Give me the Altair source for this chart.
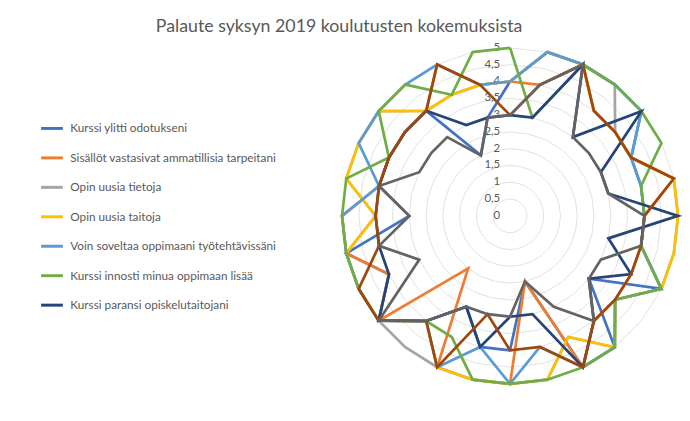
import altair as alt
import pandas as pd

N_CAT = 28
categories = list(range(N_CAT))

series_names = [
    "Kurssi ylitti odotukseni",
    "Sisällöt vastasivat ammatillisia tarpeitani",
    "Opin uusia tietoja",
    "\u00a0Opin uusia taitoja",
    "Voin soveltaa oppimaani työtehtävissäni",
    "\u00a0Kurssi innosti minua oppimaan lisää",
    "Kurssi paransi opiskelutaitojani",
    "Sarja8",
    "Sarja9",
]
series_colors = ["#4472C4", "#ED7D31", "#A5A5A5", "#FFC000", "#5B9BD5",
                 "#70AD47", "#264478", "#9E480E", "#636363"]

kurssi_ylitti = [4, 5, 5, 5, 5, 4, 4, 4, 4, 5, 3, 5, 5, 2, 4, 4, 3, 4, 5, 4, 5, 3, 4, 4, 4, 4, 2, 3]
sisallot = [4, 4, 5, 4, 4, 4, 5, 4, 4, 4, 4, 4, 5, 2, 5, 5, 5, 2, 5, 4, 5, 5, 4, 4, 4, 4, 5, 4]
tietoja = [4, 5, 5, 5, 4, 4, 5, 5, 5, 5, 4, 5, 4, 5, 5, 5, 5, 5, 5, 5, 5, 4, 5, 5, 5, 4, 4, 4]
taitoja = [4, 5, 5, 4, 4, 4, 5, 5, 5, 5, 4, 5, 4, 5, 5, 5, 5, 4, 5, 5, 5, 4, 5, 5, 5, 4, 4, 4]
soveltaa = [4, 5, 5, 5, 5, 4, 4, 4, 4, 5, 4, 5, 5, 4, 5, 4, 5, 4, 5, 5, 5, 5, 4, 5, 5, 5, 5, 4]
innosti = [5, 3, 5, 5, 5, 5, 4, 4, 4, 5, 4, 5, 5, 5, 5, 5, 4, 4, 5, 5, 5, 5, 5, 4, 5, 5, 4, 5]
paransi = [3, 3, 5, 3, 5, 3, 3, 5, 3, 4, 3, 4, 5, 3, 3, 4, 3, 4, 5, 4, 4, 4, 4, 4, 4, 4, 3, 3]
sarja8 = [3, 4, 5, 4, 4, 4, 5, 4, 4, 4, 4, 4, 5, 4, 4, 3, 5, 4, 5, 5, 4, 4, 4, 4, 4, 4, 5, 4]
sarja9 = [3, 4, 5, 3, 3, 3, 3, 4, 4, 3, 3, 4, 3, 2, 3, 3, 3, 4, 5, 3, 4, 3, 4, 3, 3, 3, 2, 3]

all_values = [kurssi_ylitti, sisallot, tietoja, taitoja, soveltaa, innosti, paransi, sarja8, sarja9]

grid_levels = [0.5, 1, 1.5, 2, 2.5, 3, 3.5, 4, 4.5, 5]
tick_values = [0, 0.5, 1, 1.5, 2, 2.5, 3, 3.5, 4, 4.5, 5]
tick_labels = ["0", "0,5", "1", "1,5", "2", "2,5", "3", "3,5", "4", "4,5", "5"]

rows = []
for s, (name, vals) in enumerate(zip(series_names, all_values)):
    for i in range(N_CAT + 1):
        rows.append({"series": name, "sidx": s, "order": i, "value": vals[i % N_CAT]})
df = pd.DataFrame(rows)

grid_rows = []
for lv in grid_levels:
    for i in range(N_CAT + 1):
        grid_rows.append({"level": lv, "order": i, "value": lv})
grid_df = pd.DataFrame(grid_rows)

tick_df = pd.DataFrame({"v": tick_values, "label": tick_labels})

W, H = 682, 360
PX = 34.0
cx, cy = 516 - 8, 216 - 48
xs = alt.Scale(domain=[-cx / PX, (W - cx) / PX], nice=False, zero=False)
ys = alt.Scale(domain=[-(H - cy) / PX, cy / PX], nice=False, zero=False)

def polar(ch):
    return ch.transform_calculate(
        ang="2*PI*datum.order/" + str(N_CAT),
        px="datum.value*sin(datum.ang)",
        py="datum.value*cos(datum.ang)",
    )

grid = polar(alt.Chart(grid_df)).mark_line(color="#D9D9D9", strokeWidth=0.8, clip=False).encode(
    x=alt.X("px:Q", scale=xs, axis=None),
    y=alt.Y("py:Q", scale=ys, axis=None),
    detail="level:N",
    order="order:Q",
)

ticks = alt.Chart(tick_df).transform_calculate(px="0").mark_text(
    align="right", baseline="middle", dx=-10, fontSize=11.5, font="Lato", color="#595959"
).encode(
    x=alt.X("px:Q", scale=xs, axis=None),
    y=alt.Y("v:Q", scale=ys, axis=None),
    text="label:N",
)

legend = alt.Legend(
    title=None, orient="none", legendX=32, legendY=67, values=series_names[:7],
    symbolType="stroke", symbolSize=484, symbolStrokeWidth=3,
    labelFontSize=11.9, labelFont="Lato", labelColor="#595959",
    rowPadding=10.8, labelOffset=6, padding=0, labelLimit=400,
)

lines = polar(alt.Chart(df)).mark_line(strokeWidth=2.75, clip=False).encode(
    x=alt.X("px:Q", scale=xs, axis=None),
    y=alt.Y("py:Q", scale=ys, axis=None),
    color=alt.Color("series:N", scale=alt.Scale(domain=series_names, range=series_colors),
                    legend=legend, sort=series_names),
    order="order:Q",
)

chart = alt.layer(grid, ticks, lines).properties(
    width=W, height=H,
    title=alt.TitleParams(
        "Palaute syksyn 2019 koulutusten kokemuksista", font="Lato", fontSize=18,
        fontWeight="normal", color="#595959", offset=6, dx=-6, anchor="middle",
    ),
    autosize=alt.AutoSizeParams(type="none"),
    padding={"left": 0, "top": 40, "right": 0, "bottom": 0},
).configure_view(stroke=None)

chart.save("out.html", embed_options={"renderer": "svg", "actions": False})
